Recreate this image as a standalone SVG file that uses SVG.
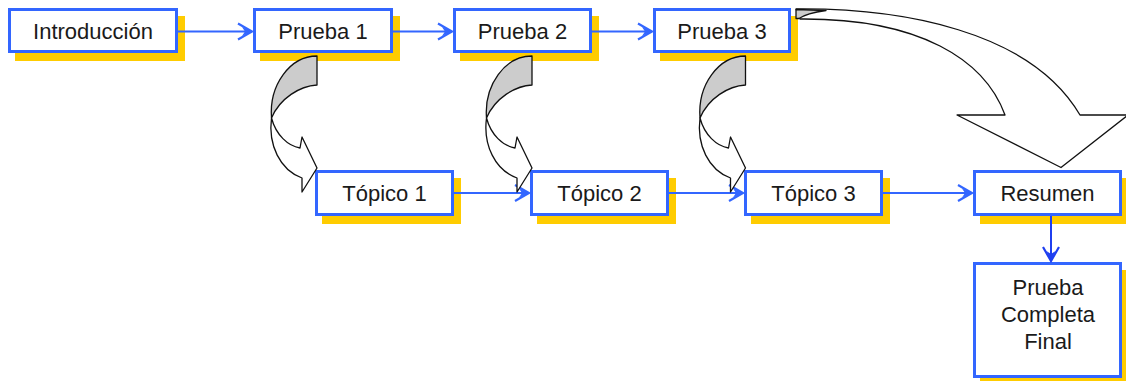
<svg xmlns="http://www.w3.org/2000/svg" width="1126" height="381" viewBox="0 0 1126 381">
  <style>
    .shadow { fill: #ffcc00; }
    .box { fill: #ffffff; stroke: #3366ff; stroke-width: 3; }
    .label { font-family: "Liberation Sans", Arial, sans-serif; font-size: 22px; fill: #1a1a1a; text-anchor: middle; }
    .link { stroke: #3366ff; stroke-width: 2; fill: none; marker-end: url(#arr); }
    .link-v { stroke: #1f3ff0; stroke-width: 2; fill: none; marker-end: url(#arrv); }
    .curl-back { fill: #cccccc; stroke: #111111; stroke-width: 1.3; stroke-linejoin: round; }
    .curl-front { fill: #ffffff; stroke: #111111; stroke-width: 1.3; stroke-linejoin: round; }
  </style>
  <defs>
    <marker id="arr" markerUnits="userSpaceOnUse" markerWidth="20" markerHeight="20" refX="0" refY="0" viewBox="-16 -10 18 20" orient="auto">
      <polyline points="-14,-8 0,0 -14,8" fill="none" stroke="#3366ff" stroke-width="2.2"/>
      <path d="M0,0 L-10,-4.5 L-7,0 L-10,4.5 Z" fill="#3366ff"/>
    </marker>
    <marker id="arrv" markerUnits="userSpaceOnUse" markerWidth="20" markerHeight="20" refX="0" refY="0" viewBox="-16 -10 18 20" orient="auto">
      <polyline points="-14,-8 0,0 -14,8" fill="none" stroke="#1f3ff0" stroke-width="2.2"/>
      <path d="M0,0 L-10,-4.5 L-7,0 L-10,4.5 Z" fill="#1f3ff0"/>
    </marker>
    <g id="curl">
      <path class="curl-back" d="M317,56 L317,85 C300,86 280,98 271.5,118 C269,85 290,56 317,56 Z"/>
      <path class="curl-front" d="M271.5,118 C268,145 280,170 302,178 L302,192 L317,168 L302,137 L300,148 C288,146 276,135 271.5,118 Z"/>
    </g>
  </defs>

  <g id="node-introduccion">
    <rect class="shadow" x="15" y="16" width="170" height="45"/>
    <rect class="box" x="9.5" y="9.5" width="167" height="42"/>
    <text class="label" x="93" y="38.5">Introducción</text>
  </g>
  <g id="node-prueba1">
    <rect class="shadow" x="260" y="16" width="140" height="45"/>
    <rect class="box" x="254.5" y="9.5" width="137" height="42"/>
    <text class="label" x="323" y="38.5">Prueba 1</text>
  </g>
  <g id="node-prueba2">
    <rect class="shadow" x="460" y="16" width="139" height="45"/>
    <rect class="box" x="454.5" y="9.5" width="136" height="42"/>
    <text class="label" x="522.5" y="38.5">Prueba 2</text>
  </g>
  <g id="node-prueba3">
    <rect class="shadow" x="660" y="16" width="138" height="45"/>
    <rect class="box" x="654.5" y="9.5" width="135" height="42"/>
    <text class="label" x="722" y="38.5">Prueba 3</text>
  </g>
  <g id="node-topico1">
    <rect class="shadow" x="322" y="178" width="139" height="46"/>
    <rect class="box" x="316.5" y="171.5" width="136" height="43"/>
    <text class="label" x="384.5" y="200.5">Tópico 1</text>
  </g>
  <g id="node-topico2">
    <rect class="shadow" x="537" y="178" width="139" height="46"/>
    <rect class="box" x="531.5" y="171.5" width="136" height="43"/>
    <text class="label" x="599.5" y="200.5">Tópico 2</text>
  </g>
  <g id="node-topico3">
    <rect class="shadow" x="751" y="178" width="139" height="46"/>
    <rect class="box" x="745.5" y="171.5" width="136" height="43"/>
    <text class="label" x="813.5" y="200.5">Tópico 3</text>
  </g>
  <g id="node-resumen">
    <rect class="shadow" x="980" y="178" width="149" height="46"/>
    <rect class="box" x="974.5" y="171.5" width="146" height="43"/>
    <text class="label" x="1047.5" y="200.5">Resumen</text>
  </g>
  <g id="node-prueba-completa-final">
    <rect class="shadow" x="980" y="270" width="149" height="116"/>
    <rect class="box" x="974.5" y="263.5" width="146" height="113"/>
    <text class="label" x="1048" y="295">Prueba</text>
    <text class="label" x="1048" y="322">Completa</text>
    <text class="label" x="1048" y="349">Final</text>
  </g>

  <g id="connectors">
    <line class="link" x1="178" y1="31.5" x2="252" y2="31.5"/>
    <line class="link" x1="393" y1="31.5" x2="452" y2="31.5"/>
    <line class="link" x1="592" y1="31.5" x2="652" y2="31.5"/>
    <line class="link" x1="454" y1="193" x2="529" y2="193"/>
    <line class="link" x1="669" y1="193" x2="743" y2="193"/>
    <line class="link" x1="883" y1="193" x2="972" y2="193"/>
    <line class="link-v" x1="1051" y1="216" x2="1051" y2="261"/>
    <use href="#curl"/>
    <use href="#curl" transform="translate(215,0)"/>
    <use href="#curl" transform="translate(428.5,0)"/>
    <path class="curl-front" d="M796,9 C900,8 1030,30 1080,115 L1128,115 L1061,167.5 L957,115 L1005,115 C985,60 920,18 800,19 Z"/>
    <path class="curl-back" d="M796,9.5 L826,10.5 C812,12.5 804,15 799,18.5 L796,18.5 Z"/>
  </g>
</svg>
